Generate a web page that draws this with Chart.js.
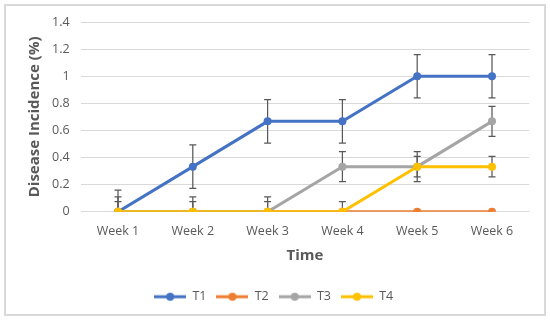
<!DOCTYPE html>
<html>
<head>
<meta charset="utf-8">
<script src="https://cdn.jsdelivr.net/npm/chart.js@4/dist/chart.umd.min.js"></script>
<style>
  body { margin: 0; background: #fff; }
  #wrap { position: relative; width: 550px; height: 324px; }
  #frame { position: absolute; left: 4px; top: 4px; width: 542px; height: 312px; box-sizing: border-box; border: 2px solid #d9d9d9; pointer-events: none; }
</style>
</head>
<body>
<div id="wrap">
  <canvas id="myChart" width="550" height="324"></canvas>
  <div id="frame"></div>
</div>
<script>
// данные
var weeks = ['Week 1', 'Week 2', 'Week 3', 'Week 4', 'Week 5', 'Week 6'];
var t1 = [0, 0.333, 0.667, 0.667, 1, 1];
var t2 = [0, 0, 0, 0, 0, 0];
var t3 = [0, 0, 0, 0.333, 0.333, 0.667];
var t4 = [0, 0, 0, 0, 0.333, 0.333];
// погрешности (±)
var err1 = [0.16, 0.16, 0.16, 0.16, 0.16, 0.16];
var err2 = [0, 0, 0, 0, 0, 0];
var err3 = [0.11, 0.11, 0.11, 0.11, 0.11, 0.11];
var err4 = [0.075, 0.075, 0.075, 0.075, 0.075, 0.075];
var yTicks = [0, 0.2, 0.4, 0.6, 0.8, 1, 1.2, 1.4];

var colors = ['#4472C4', '#ED7D31', '#A5A5A5', '#FFC000'];
var FONT = "'Open Sans', 'Noto Sans', sans-serif";

// картинка для легенды: линия с кружком
function legendIcon(color) {
  var c = document.createElement('canvas');
  c.width = 32;
  c.height = 10;
  var cx = c.getContext('2d');
  cx.strokeStyle = color;
  cx.lineWidth = 3;
  cx.beginPath();
  cx.moveTo(0, 5);
  cx.lineTo(32, 5);
  cx.stroke();
  cx.fillStyle = color;
  cx.beginPath();
  cx.arc(16, 5, 4, 0, Math.PI * 2);
  cx.fill();
  return c;
}

function makeSet(label, data, err, i) {
  return {
    label: label,
    data: data,
    errors: err,
    borderColor: colors[i],
    backgroundColor: colors[i],
    borderWidth: 3,
    pointRadius: 4,
    pointHoverRadius: 4,
    pointBorderWidth: 0,
    tension: 0,
    order: 3 - i
  };
}

var errorBars = {
  id: 'errorBars',
  beforeDatasetsDraw: function(chart) {
    var ctx = chart.ctx;
    var area = chart.chartArea;
    var y = chart.scales.y;
    ctx.save();
    ctx.beginPath();
    ctx.rect(area.left, area.top, area.right - area.left, area.bottom - area.top);
    ctx.clip();
    ctx.strokeStyle = '#595959';
    ctx.lineWidth = 1.25;
    chart.data.datasets.forEach(function(ds, di) {
      var meta = chart.getDatasetMeta(di);
      ds.data.forEach(function(v, i) {
        var e = ds.errors[i];
        if (!e) return;
        var x = meta.data[i].x;
        var yTop = y.getPixelForValue(v + e);
        var yBot = y.getPixelForValue(v - e);
        ctx.beginPath();
        ctx.moveTo(x, yTop);
        ctx.lineTo(x, yBot);
        ctx.moveTo(x - 3.5, yTop);
        ctx.lineTo(x + 3.5, yTop);
        ctx.moveTo(x - 3.5, yBot);
        ctx.lineTo(x + 3.5, yBot);
        ctx.stroke();
      });
    });
    ctx.restore();
  }
};

var chart = new Chart(document.getElementById('myChart'), {
  type: 'line',
  data: {
    labels: weeks,
    datasets: [
      makeSet('T1', t1, err1, 0),
      makeSet('T2', t2, err2, 1),
      makeSet('T3', t3, err3, 2),
      makeSet('T4', t4, err4, 3)
    ]
  },
  options: {
    responsive: false,
    animation: false,
    layout: { padding: { left: 18, right: 20.6, top: 22, bottom: 11 } },
    plugins: {
      tooltip: { enabled: false },
      legend: {
        position: 'bottom',
        labels: {
          usePointStyle: true,
          pointStyleWidth: 32,
          padding: 10,
          color: '#595959',
          font: { family: FONT, size: 12.5 },
          sort: function(a, b) { return a.datasetIndex - b.datasetIndex; },
          generateLabels: function(ch) {
            var items = Chart.defaults.plugins.legend.labels.generateLabels(ch);
            items.forEach(function(it) {
              it.pointStyle = legendIcon(colors[it.datasetIndex]);
            });
            return items;
          }
        }
      }
    },
    scales: {
      x: {
        offset: true,
        grid: { display: false },
        border: { display: false },
        ticks: { color: '#595959', font: { family: FONT, size: 12.5 }, padding: 4 },
        title: {
          display: true,
          text: 'Time',
          color: '#595959',
          font: { family: FONT, size: 15, weight: 'bold' },
          padding: { top: 4, bottom: 16 }
        },
        afterFit: function(scale) { scale.height = 68.7; }
      },
      y: {
        min: 0,
        max: 1.4,
        afterBuildTicks: function(scale) {
          scale.ticks = yTicks.map(function(v) { return { value: v }; });
        },
        grid: { color: '#d9d9d9', drawTicks: false },
        border: { display: false },
        ticks: {
          color: '#595959',
          font: { family: FONT, size: 12.5 },
          padding: 11,
          callback: function(v) { return String(Math.round(v * 10) / 10); }
        },
        title: {
          display: true,
          text: 'Disease Incidence (%)',
          color: '#595959',
          font: { family: FONT, size: 15, weight: 'bold' },
          padding: { top: 8, bottom: 4 }
        },
        afterFit: function(scale) { scale.width = 62.6; }
      }
    }
  },
  plugins: [errorBars]
});
</script>
</body>
</html>
